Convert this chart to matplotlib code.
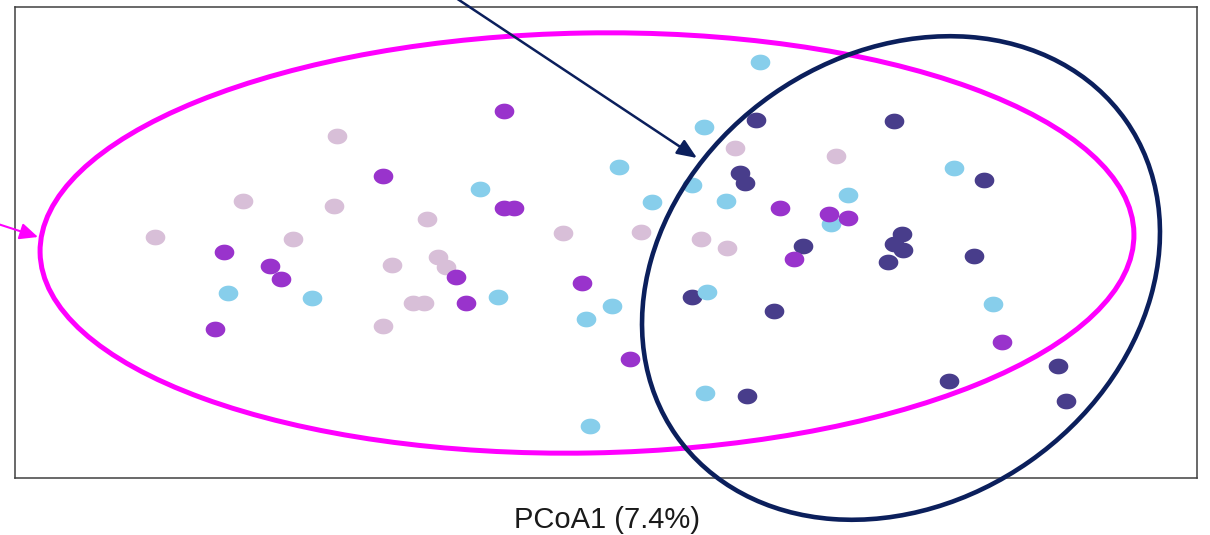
import numpy as np
import matplotlib
matplotlib.use('Agg')
import matplotlib.pyplot as plt
from matplotlib.patches import Ellipse
from matplotlib.path import Path

# PCoA scores per group (PCoA1, PCoA2)
grp_a_x = [-0.269, -0.363, -0.272, -0.451, -0.313, -0.179, -0.043, 0.035, -0.214,
           -0.168, -0.160, -0.193, -0.182, -0.223, 0.129, 0.230, 0.095, 0.121]
grp_a_y = [0.106, 0.041, 0.036, 0.005, 0.003, 0.023, 0.009, 0.010, -0.023,
           -0.015, -0.025, -0.061, -0.061, -0.084, 0.094, 0.086, 0.003, -0.006]

grp_b_x = [-0.102, -0.223, -0.102, -0.092, -0.382, -0.336, -0.325, -0.150, -0.140,
           -0.391, -0.024, 0.024, 0.174, 0.223, 0.242, 0.188, 0.396]
grp_b_y = [0.131, 0.066, 0.034, 0.034, -0.010, -0.024, -0.037, -0.035, -0.061,
           -0.087, -0.041, -0.117, 0.034, 0.028, 0.024, -0.017, -0.100]

grp_c_x = [0.154, 0.098, 0.013, -0.126, 0.046, 0.086, 0.120, 0.242, 0.225, 0.348,
           -0.378, -0.294, -0.108, 0.006, -0.020, 0.101, 0.387, 0.099, -0.016]
grp_c_y = [0.180, 0.115, 0.075, 0.053, 0.040, 0.057, 0.041, 0.047, 0.018, 0.074,
           -0.051, -0.056, -0.055, -0.064, -0.077, -0.050, -0.062, -0.151, -0.184]

grp_d_x = [0.150, 0.288, 0.134, 0.139, 0.378, 0.197, 0.296, 0.288, 0.297, 0.282,
           0.368, 0.086, 0.168, 0.141, 0.343, 0.452, 0.460]
grp_d_y = [0.122, 0.121, 0.069, 0.059, 0.062, -0.004, 0.008, -0.002, -0.008, -0.020,
           -0.014, -0.055, -0.069, -0.154, -0.139, -0.124, -0.159]

# cluster outlines: centre, width, height, angle
clu1 = dict(xy=(-0.019, -0.001), width=1.094, height=0.420, angle=1.0)
clu2 = dict(xy=(0.295, -0.036), width=0.549, height=0.448, angle=35)

# slightly flattened dots
t = np.linspace(0, 2 * np.pi, 60)
dot = Path(np.column_stack([np.cos(t), 0.8 * np.sin(t)]))

fig = plt.figure(figsize=(12.1, 5.35), dpi=100)
ax = fig.add_axes([15 / 1210, 57 / 535, 1182 / 1210, 471 / 535])
ax.set_xlim(-0.591, 0.591)
ax.set_ylim(-0.236, 0.235)
ax.set_xticks([])
ax.set_yticks([])
for sp in ax.spines.values():
    sp.set_color('#404040')
    sp.set_linewidth(1.1)

ax.scatter(grp_a_x, grp_a_y, s=200, marker=dot, color='#d8bfd8', lw=0, zorder=2)
ax.scatter(grp_d_x, grp_d_y, s=200, marker=dot, color='#483d8b', lw=0, zorder=3)
ax.scatter(grp_c_x, grp_c_y, s=200, marker=dot, color='#87ceeb', lw=0, zorder=4)
ax.scatter(grp_b_x, grp_b_y, s=200, marker=dot, color='#9933cc', lw=0, zorder=5)

ax.add_patch(Ellipse(**clu1, fill=False, ec='#ff00ff', lw=3.6, zorder=6))
ax.add_patch(Ellipse(**clu2, fill=False, ec='#0b1f5c', lw=3.3, zorder=7, clip_on=False))

ax.annotate('', xy=(0.091, 0.084), xycoords='data', xytext=(456, 537),
            textcoords='figure pixels', annotation_clip=False,
            arrowprops=dict(arrowstyle='-|>,head_length=0.6,head_width=0.25',
                            mutation_scale=20, color='#0b1f5c', lw=1.8,
                            shrinkA=0, shrinkB=0), zorder=8)
ax.annotate('', xy=(-0.568, 0.005), xycoords='data', xytext=(-2, 311),
            textcoords='figure pixels', annotation_clip=False,
            arrowprops=dict(arrowstyle='-|>,head_length=0.55,head_width=0.25',
                            mutation_scale=20, color='#ff00ff', lw=1.5,
                            shrinkA=0, shrinkB=0), zorder=8)

fig.text(607 / 1210, 15 / 535, 'PCoA1 (7.4%)', ha='center', va='center',
         fontsize=21, family='Liberation Sans', color='#1a1a1a')

fig.savefig('out.png', dpi=100)
